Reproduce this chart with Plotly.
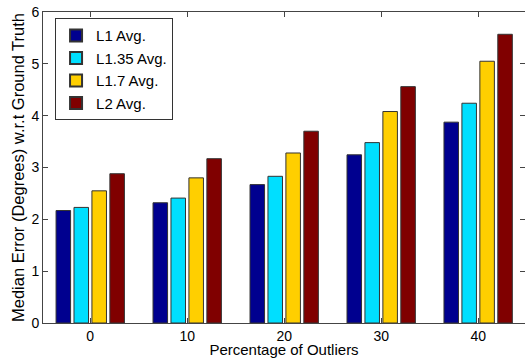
import plotly.graph_objects as go

outliers = [0, 10, 20, 30, 40]
series_names = ["L1 Avg.", "L1.35 Avg.", "L1.7 Avg.", "L2 Avg."]
l1 = [2.17, 2.32, 2.67, 3.245, 3.875]
l135 = [2.23, 2.41, 2.83, 3.48, 4.24]
l17 = [2.55, 2.80, 3.28, 4.08, 5.05]
l2 = [2.88, 3.17, 3.70, 4.56, 5.57]
colors = ["#00008F", "#00DFFF", "#FFCF00", "#800000"]
y_ticks = [0, 1, 2, 3, 4, 5, 6]

fig = go.Figure()
for name, vals, col in zip(series_names, [l1, l135, l17, l2], colors):
    fig.add_trace(go.Bar(x=outliers, y=vals, name=name,
                         marker=dict(color=col, line=dict(color="#333333", width=1))))

font = "Liberation Sans, Arial, sans-serif"
fig.update_layout(
    width=525, height=358,
    margin=dict(l=43, r=0, t=12, b=35),
    paper_bgcolor="white", plot_bgcolor="white",
    barmode="group", bargap=0.26, bargroupgap=0.19,
    font=dict(family=font, size=14, color="#000000"),
    showlegend=True,
    legend=dict(x=0.025, y=0.98, xanchor="left", yanchor="top",
                bgcolor="white", bordercolor="#333333", borderwidth=1,
                font=dict(size=15), tracegroupgap=0, itemsizing="constant"),
    xaxis=dict(range=[-4.87, 44.83], tickvals=outliers, ticktext=[str(v) for v in outliers],
               automargin=False,
               showgrid=False, zeroline=False, showline=True, linecolor="#444444", linewidth=1,
               mirror="ticks", ticks="inside", ticklen=5, tickcolor="#444444",
               title=dict(text="Percentage of Outliers", standoff=4, font=dict(size=15))),
    yaxis=dict(range=[0, 6], tickvals=y_ticks, automargin=False,
               showgrid=False, zeroline=False, showline=True, linecolor="#444444", linewidth=1,
               mirror="ticks", ticks="inside", ticklen=5, tickcolor="#444444",
               title=dict(text="Median Error (Degrees) w.r.t Ground Truth", standoff=2, font=dict(size=16.5))),
)
fig.write_html("out.html", config={"displayModeBar": False},
               post_script="document.body.style.margin='0';document.body.style.overflow='hidden';")
